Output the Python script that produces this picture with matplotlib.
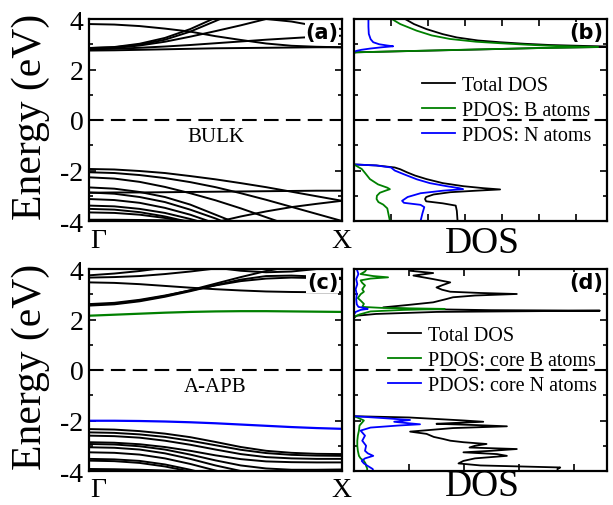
import numpy as np
import matplotlib.pyplot as plt
from matplotlib.ticker import MultipleLocator

plt.rcParams['font.family'] = 'Liberation Serif'
plt.rcParams['axes.unicode_minus'] = False

# ---- band structures (k from Gamma to X) ----
kpts = [0.0, 0.1, 0.2, 0.3, 0.4, 0.5, 0.6, 0.7, 0.8, 0.9, 1.0]

bulk_cond = [
    [2.75, 2.76, 2.78, 2.80, 2.82, 2.84, 2.85, 2.86, 2.87, 2.88, 2.88],
    [3.80, 3.78, 3.72, 3.62, 3.50, 3.32, 3.17, 3.03, 2.94, 2.90, 2.88],
    [2.85, 2.89, 3.02, 3.25, 3.60, 4.05, 4.50, 4.90, 5.30, 5.60, 5.80],
    [2.85, 2.88, 2.98, 3.18, 3.50, 3.92, 4.35, 4.70, 5.00, 5.20, 5.30],
    [2.82, 2.85, 2.95, 3.10, 3.30, 3.52, 3.75, 4.00, 3.90, 3.72, 3.60],
    [2.80, 2.82, 2.86, 2.91, 2.97, 3.04, 3.11, 3.18, 3.24, 3.30, 3.34],
]
bulk_val = [
    [-1.94, -1.96, -2.02, -2.10, -2.22, -2.35, -2.50, -2.66, -2.84, -3.02, -3.20],
    [-2.07, -2.10, -2.18, -2.30, -2.46, -2.66, -2.90, -3.16, -3.44, -3.72, -4.00],
    [-2.27, -2.32, -2.45, -2.65, -2.90, -3.18, -3.50, -3.85, -4.20, -4.50, -4.70],
    [-2.67, -2.72, -2.85, -3.05, -3.35, -3.75, -4.15, -4.50, -4.80, -5.00, -5.10],
    [-2.88, -2.87, -2.87, -2.86, -2.85, -2.84, -2.83, -2.82, -2.81, -2.80, -2.80],
    [-2.87, -2.92, -3.05, -3.25, -3.55, -3.90, -4.30, -4.60, -4.90, -5.10, -5.20],
    [-3.13, -3.17, -3.28, -3.48, -3.75, -4.10, -4.40, -4.70, -4.90, -5.00, -5.10],
    [-3.39, -3.42, -3.52, -3.68, -3.92, -4.20, -4.50, -4.70, -4.90, -5.00, -5.10],
    [-3.52, -3.55, -3.65, -3.82, -4.05, -4.30, -4.50, -4.70, -4.90, -5.00, -5.10],
    [-3.66, -3.68, -3.75, -3.88, -4.05, -4.25, -4.45, -4.65, -4.85, -5.00, -5.10],
    [-3.95, -3.95, -3.96, -3.97, -3.99, -4.02, -4.10, -4.20, -4.30, -4.40, -4.50],
    [-5.00, -4.90, -4.75, -4.55, -4.30, -4.05, -3.82, -3.62, -3.45, -3.32, -3.20],
]

apb_core_b = [2.15, 2.19, 2.23, 2.27, 2.30, 2.32, 2.33, 2.33, 2.32, 2.31, 2.30]
apb_core_n = [-2.01, -2.01, -2.02, -2.04, -2.07, -2.11, -2.16, -2.21, -2.26, -2.30, -2.33]
apb_cond = [
    [3.75, 3.82, 3.92, 4.05, 4.20, 4.35, 4.50, 4.60, 4.70, 4.80, 4.90],
    [3.66, 3.68, 3.72, 3.80, 3.90, 4.02, 4.15, 4.30, 4.40, 4.50, 4.60],
    [3.47, 3.45, 3.40, 3.33, 3.26, 3.20, 3.15, 3.11, 3.09, 3.08, 3.08],
    [2.61, 2.66, 2.78, 2.95, 3.15, 3.35, 3.52, 3.62, 3.66, 3.64, 3.60],
    [2.58, 2.63, 2.75, 2.93, 3.16, 3.42, 3.68, 3.92, 4.10, 4.20, 4.30],
    [2.55, 2.60, 2.72, 2.90, 3.12, 3.36, 3.58, 3.72, 3.74, 3.70, 3.65],
    [4.60, 4.50, 4.40, 4.30, 4.20, 4.05, 3.93, 3.87, 3.90, 4.00, 4.10],
]
apb_val = [
    [-2.34, -2.36, -2.42, -2.52, -2.66, -2.85, -3.05, -3.20, -3.28, -3.32, -3.33],
    [-2.47, -2.49, -2.55, -2.65, -2.80, -2.98, -3.16, -3.29, -3.36, -3.39, -3.40],
    [-2.60, -2.62, -2.68, -2.80, -2.96, -3.15, -3.33, -3.45, -3.50, -3.52, -3.52],
    [-2.86, -2.88, -2.94, -3.05, -3.20, -3.38, -3.53, -3.62, -3.65, -3.66, -3.66],
    [-2.93, -2.95, -3.02, -3.15, -3.35, -3.58, -3.78, -3.90, -3.95, -3.95, -3.94],
    [-3.06, -3.08, -3.15, -3.30, -3.52, -3.78, -4.00, -4.15, -4.25, -4.30, -4.30],
    [-3.26, -3.28, -3.35, -3.50, -3.72, -3.98, -4.20, -4.35, -4.45, -4.50, -4.50],
    [-3.52, -3.54, -3.60, -3.74, -3.95, -4.20, -4.40, -4.55, -4.60, -4.65, -4.65],
    [-3.59, -3.61, -3.68, -3.82, -4.02, -4.25, -4.45, -4.60, -4.65, -4.70, -4.70],
    [-3.92, -3.93, -3.95, -3.98, -4.02, -4.08, -4.15, -4.20, -4.25, -4.30, -4.30],
]

# ---- DOS, bulk (energy, value) ----
bulk_tot_cb_e = [4.0, 3.8, 3.6, 3.4, 3.27, 3.15, 3.08, 3.02, 2.97, 2.93, 2.90, 2.86, 2.80, 2.74, 2.68]
bulk_tot_cb_v = [1.38, 1.62, 1.96, 2.40, 2.78, 3.35, 3.95, 4.60, 5.30, 6.30, 7.20, 5.30, 3.60, 1.80, 0.0]
bulk_b_cb_e = [4.0, 3.8, 3.54, 3.35, 3.21, 3.10, 3.04, 2.98, 2.94, 2.91, 2.89, 2.84, 2.78, 2.72, 2.68, 2.66]
bulk_b_cb_v = [1.02, 1.25, 1.69, 2.10, 2.59, 3.30, 3.95, 4.70, 5.30, 6.00, 6.60, 4.70, 2.90, 1.15, 0.07, 0.0]
bulk_n_cb_e = [4.0, 3.7, 3.41, 3.2, 3.08, 3.00, 2.95, 2.92, 2.88, 2.83, 2.78, 2.74, 2.70]
bulk_n_cb_v = [0.39, 0.39, 0.40, 0.45, 0.52, 0.68, 0.90, 1.06, 0.75, 0.44, 0.20, 0.07, 0.0]

bulk_tot_vb_e = [-1.76, -1.80, -1.88, -1.95, -2.07, -2.20, -2.34, -2.50, -2.62, -2.70, -2.75,
                 -2.80, -2.86, -2.95, -3.05, -3.13, -3.22, -3.30, -3.39, -3.6, -4.0]
bulk_tot_vb_v = [0, 0.6, 1.10, 1.25, 1.43, 1.65, 1.96, 2.40, 2.95, 3.50, 3.95,
                 3.30, 2.60, 2.15, 1.95, 1.92, 1.95, 2.4, 2.75, 2.78, 2.80]
bulk_n_vb_e = [-1.76, -1.80, -1.88, -2.0, -2.15, -2.35, -2.5, -2.62, -2.70, -2.74,
               -2.80, -2.90, -3.05, -3.20, -3.28, -3.36, -3.45, -3.7, -4.0]
bulk_n_vb_v = [0, 0.6, 1.0, 1.10, 1.35, 1.70, 2.05, 2.50, 2.85, 2.95,
               2.40, 1.80, 1.45, 1.30, 1.35, 1.80, 1.90, 1.85, 1.80]
bulk_b_vb_e = [-1.76, -1.85, -1.94, -2.1, -2.34, -2.55, -2.68, -2.74, -2.80, -2.88,
               -3.0, -3.13, -3.25, -3.35, -3.5, -4.0]
bulk_b_vb_v = [0, 0.1, 0.21, 0.30, 0.43, 0.65, 0.90, 0.97, 0.85, 0.70,
               0.62, 0.61, 0.66, 0.79, 0.90, 0.97]

# ---- DOS, A-APB ----
apb_tot_cb_e = [4.0, 3.93, 3.84, 3.74, 3.60, 3.47, 3.37, 3.27, 3.18, 3.10, 3.05, 3.01, 2.95,
                2.88, 2.81, 2.74, 2.68, 2.58, 2.48, 2.42, 2.37, 2.35, 2.30, 2.22, 2.15, 2.07]
apb_tot_cb_v = [1.1, 1.02, 1.44, 1.08, 1.44, 1.75, 1.62, 1.50, 1.60, 1.75, 2.3, 2.96, 2.2,
                1.8, 1.68, 1.55, 1.44, 1.0, 0.53, 1.0, 2.5, 4.47, 1.5, 0.4, 0.05, 0.0]
apb_b_cb_e = [4.0, 3.9, 3.8, 3.72, 3.67, 3.62, 3.55, 3.45, 3.35, 3.2, 3.1, 3.0, 2.85,
              2.75, 2.62, 2.5, 2.46, 2.42, 2.38, 2.32, 2.2, 2.1]
apb_b_cb_v = [0.23, 0.20, 0.12, 0.35, 0.62, 0.30, 0.12, 0.15, 0.20, 0.15, 0.18, 0.12, 0.07,
              0.12, 0.18, 0.15, 0.5, 1.65, 0.9, 0.3, 0.1, 0.0]
apb_n_cb_e = [4.0, 3.8, 3.6, 3.4, 3.2, 3.0, 2.8, 2.6, 2.5, 2.45, 2.42, 2.38, 2.3, 2.2]
apb_n_cb_v = [0.05, 0.08, 0.04, 0.06, 0.03, 0.05, 0.04, 0.05, 0.08, 0.2, 0.25, 0.12, 0.03, 0.0]

apb_tot_vb_e = [-1.83, -1.88, -1.94, -2.00, -2.05, -2.10, -2.13, -2.18, -2.23, -2.30, -2.44,
                -2.53, -2.65, -2.73, -2.80, -2.86, -2.93, -3.0, -3.07, -3.13, -3.2, -3.26,
                -3.33, -3.40, -3.50, -3.60, -3.70, -3.78, -3.86, -3.92, -4.0]
apb_tot_vb_v = [0, 1.0, 1.50, 2.0, 2.35, 1.8, 1.50, 2.2, 2.78, 1.8, 1.02,
                1.32, 1.45, 1.62, 1.75, 1.99, 2.41, 2.2, 2.1, 2.96, 2.5, 1.99,
                2.6, 2.78, 2.2, 1.99, 1.9, 2.3, 3.75, 3.7, 3.7]
apb_n_vb_e = [-1.83, -1.90, -1.98, -2.05, -2.10, -2.15, -2.20, -2.28, -2.40, -2.6, -2.8,
              -3.0, -3.2, -3.3, -3.4, -3.5, -3.6, -3.7, -3.8, -3.92, -4.0]
apb_n_vb_v = [0, 0.5, 1.02, 0.73, 0.95, 1.2, 0.8, 0.3, 0.12, 0.2, 0.15,
              0.22, 0.2, 0.25, 0.35, 0.2, 0.14, 0.18, 0.25, 0.34, 0.35]
apb_b_vb_e = [-1.83, -1.9, -2.0, -2.1, -2.2, -2.4, -2.6, -2.8, -3.0, -3.2, -3.4,
              -3.5, -3.6, -3.7, -3.8, -3.9, -4.0]
apb_b_vb_v = [0, 0.08, 0.18, 0.14, 0.10, 0.09, 0.07, 0.06, 0.06, 0.07, 0.09,
              0.12, 0.18, 0.21, 0.22, 0.24, 0.24]

GREEN = '#008000'
BLUE = '#0000ff'
W, H = 613, 506

fig = plt.figure(figsize=(W / 100, H / 100), dpi=100)


def px_axes(x0, y0, x1, y1):
    return fig.add_axes([x0 / W, 1 - y1 / H, (x1 - x0) / W, (y1 - y0) / H])


ax_a = px_axes(89, 20, 342, 222)
ax_b = px_axes(354, 20, 607, 222)
ax_c = px_axes(89, 270, 342, 472)
ax_d = px_axes(354, 270, 607, 472)


def style(ax):
    ax.set_ylim(-4, 4)
    ax.yaxis.set_major_locator(MultipleLocator(2))
    ax.yaxis.set_minor_locator(MultipleLocator(1))
    ax.tick_params(axis='y', which='both', direction='in', left=True, right=True)
    ax.tick_params(axis='y', which='major', length=5, width=1.2)
    ax.tick_params(axis='y', which='minor', length=3, width=1.2)
    for s in ax.spines.values():
        s.set_linewidth(1.6)
    ax.axhline(0, color='black', lw=1.5, ls=(0, (7, 3.5)))


for ax, cond, val, lab, name in [(ax_a, bulk_cond, bulk_val, '(a)', 'BULK'),
                                 (ax_c, apb_cond, apb_val, '(c)', 'A-APB')]:
    for b in cond + val:
        ax.plot(kpts, b, color='black', lw=1.4)
    style(ax)
    ax.set_xlim(0, 1)
    ax.set_xticks([])
    ax.set_yticks([-4, -2, 0, 2, 4])
    ax.tick_params(axis='y', labelsize=20, pad=4)
    ax.text(0.5, 0.42, name, transform=ax.transAxes, ha='center', va='center',
            fontsize=15)
    ax.text(0.985, 0.935, lab, transform=ax.transAxes, ha='right', va='center',
            fontsize=15, fontweight='bold', family='DejaVu Sans',
            bbox=dict(facecolor='white', edgecolor='none', pad=0.5))

ax_c.plot(kpts, apb_core_b, color=GREEN, lw=1.6)
ax_c.plot(kpts, apb_core_n, color=BLUE, lw=1.6)

# DOS panels
ax_b.plot(bulk_tot_cb_v, bulk_tot_cb_e, color='black', lw=1.3, label='Total DOS')
ax_b.plot(bulk_b_cb_v, bulk_b_cb_e, color=GREEN, lw=1.3, label='PDOS: B atoms')
ax_b.plot(bulk_n_cb_v, bulk_n_cb_e, color=BLUE, lw=1.3, label='PDOS: N atoms')
ax_b.plot(bulk_tot_vb_v, bulk_tot_vb_e, color='black', lw=1.3)
ax_b.plot(bulk_n_vb_v, bulk_n_vb_e, color=BLUE, lw=1.3)
ax_b.plot(bulk_b_vb_v, bulk_b_vb_e, color=GREEN, lw=1.3)
ax_b.set_xlim(0, 6.84)
ax_b.xaxis.set_major_locator(MultipleLocator(1))

ax_d.plot(apb_tot_cb_v, apb_tot_cb_e, color='black', lw=1.3, label='Total DOS')
ax_d.plot(apb_b_cb_v, apb_b_cb_e, color=GREEN, lw=1.3, label='PDOS: core B atoms')
ax_d.plot(apb_n_cb_v, apb_n_cb_e, color=BLUE, lw=1.3, label='PDOS: core N atoms')
ax_d.plot(apb_tot_vb_v, apb_tot_vb_e, color='black', lw=1.3)
ax_d.plot(apb_b_vb_v, apb_b_vb_e, color=GREEN, lw=1.3)
ax_d.plot(apb_n_vb_v, apb_n_vb_e, color=BLUE, lw=1.3)
ax_d.set_xlim(0, 4.6)
ax_d.xaxis.set_major_locator(MultipleLocator(1))

for ax, lab, lx in [(ax_b, '(b)', 0.268), (ax_d, '(d)', 0.134)]:
    style(ax)
    ax.tick_params(axis='x', which='both', direction='in', top=True, bottom=True,
                   length=5, width=1.2, labelbottom=False)
    ax.tick_params(axis='y', labelleft=False)
    ax.text(0.985, 0.935, lab, transform=ax.transAxes, ha='right', va='center',
            fontsize=15, fontweight='bold', family='DejaVu Sans',
            bbox=dict(facecolor='white', edgecolor='none', pad=0.5))
    ax.legend(loc='upper left', bbox_to_anchor=(lx, 0.72), frameon=False,
              fontsize=14.5, handlelength=1.65, handletextpad=0.35,
              labelspacing=0.3, borderpad=0, borderaxespad=0)

# axis labels
for yc in (117, 367):
    fig.text(31 / W, 1 - yc / H, 'Energy (eV)', rotation=90, ha='center',
             va='center', fontsize=30)
for yb in (248, 497):
    fig.text(90 / W, 1 - yb / H, u'\u0393', ha='left', va='baseline', fontsize=20)
    fig.text(341 / W, 1 - yb / H, 'X', ha='center', va='baseline', fontsize=20)
for yb in (253, 496):
    fig.text(482 / W, 1 - yb / H, 'DOS', ha='center', va='baseline', fontsize=27)

plt.savefig('out.png', dpi=100)
